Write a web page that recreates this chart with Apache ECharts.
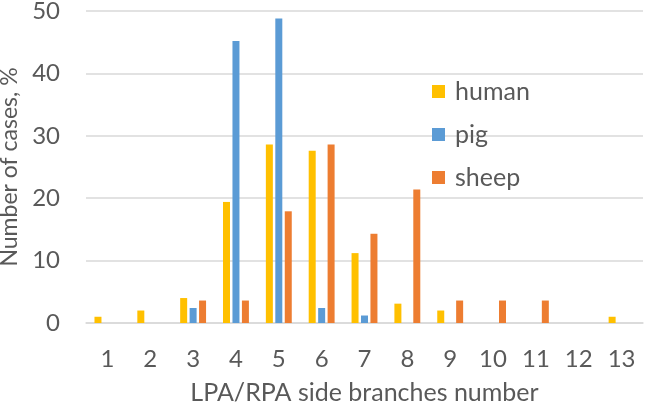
<!DOCTYPE html>
<html><head><meta charset="utf-8">
<script src="https://cdn.jsdelivr.net/npm/echarts@6/dist/echarts.min.js"></script>
<style>html,body{margin:0;padding:0;background:#fff}#c{width:645px;height:410px}</style>
</head><body><div id="c"></div>
<script>
var categories = ['1','2','3','4','5','6','7','8','9','10','11','12','13'];
var human = [1.0, 2.0, 4.0, 19.4, 28.6, 27.6, 11.2, 3.1, 2.0, 0, 0, 0, 1.0];
var pig = [0, 0, 2.4, 45.2, 48.8, 2.4, 1.2, 0, 0, 0, 0, 0, 0];
var sheep = [0, 0, 3.6, 3.6, 17.9, 28.6, 14.3, 21.4, 3.6, 3.6, 3.6, 0, 0];
var yTicks = [0, 10, 20, 30, 40, 50];

var font = 'Lato, "Open Sans", sans-serif';
var txt = '#595959';
var chart = echarts.init(document.getElementById('c'));
function s(name, data, color) {
  return {name: name, type: 'bar', data: data, barWidth: 7, barGap: '35%',
    itemStyle: {color: color}, emphasis: {disabled: true}};
}
chart.setOption({
  animation: false,
  grid: {left: 86, right: 2, top: 11, bottom: 87, containLabel: false, outerBoundsMode: 'none'},
  legend: {
    orient: 'vertical', left: 427, top: 74, itemWidth: 13, itemHeight: 13,
    itemGap: 18, icon: 'rect',
    textStyle: {fontFamily: font, fontSize: 25, color: txt, padding: [0,0,0,5]},
    data: ['human','pig','sheep']
  },
  xAxis: {
    type: 'category', data: categories,
    name: 'LPA/RPA side branches number', nameLocation: 'middle', nameGap: 57,
    nameTextStyle: {fontFamily: font, fontSize: 25, color: txt},
    axisLine: {lineStyle: {color: '#d9d9d9', width: 1.5}},
    axisTick: {show: false},
    axisLabel: {fontFamily: font, fontSize: 24, color: txt, margin: 24}
  },
  yAxis: {
    type: 'value', min: yTicks[0], max: yTicks[yTicks.length-1], interval: 10,
    name: 'Number of cases, %', nameLocation: 'middle', nameGap: 60,
    nameTextStyle: {fontFamily: font, fontSize: 23, color: txt},
    axisLine: {show: false}, axisTick: {show: false},
    splitLine: {lineStyle: {color: '#d9d9d9', width: 1.5}},
    axisLabel: {fontFamily: font, fontSize: 24, color: txt, margin: 26}
  },
  series: [s('human', human, '#ffc000'), s('pig', pig, '#5b9bd5'), s('sheep', sheep, '#ed7d31')]
});
</script></body></html>
